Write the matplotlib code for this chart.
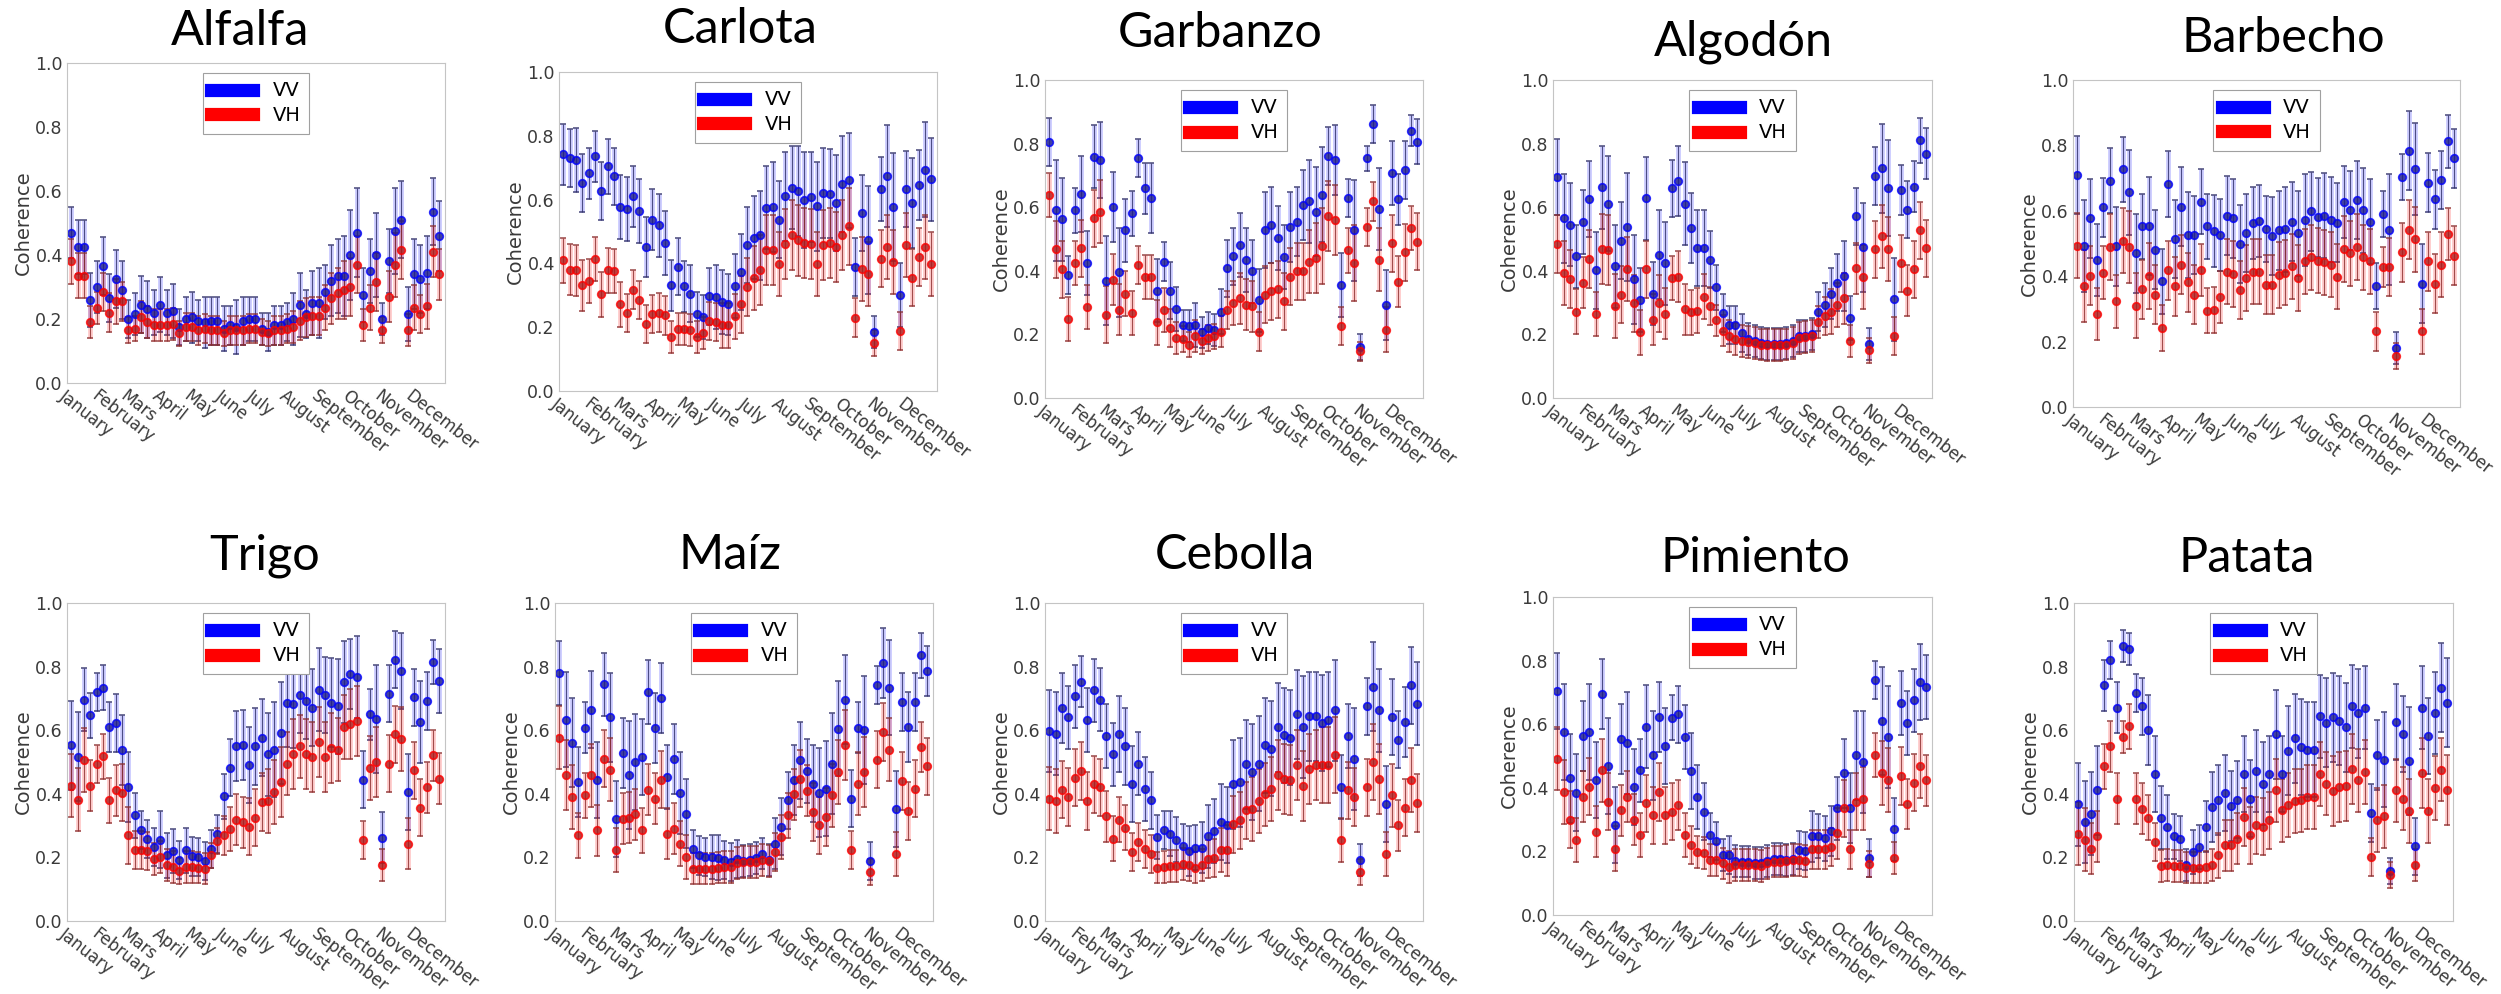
"""
Interferometric coherence (VV / VH) through the year for ten crop classes.
"""
import numpy as np
import matplotlib.pyplot as plt
from matplotlib.lines import Line2D

W, H = 2501, 994

months = ['January', 'February', 'Mars', 'April', 'May', 'June', 'July',
          'August', 'September', 'October', 'November', 'December']
month_start = [0, 31, 59, 90, 120, 151, 181, 212, 243, 273, 304, 334]

# 59 acquisitions spread over the year (day of year)
days = np.linspace(4.2, 359.5, 59)

# ---- data ---------------------------------------------------------------
alfalfa_vv = [0.47, 0.425, 0.425, 0.26, 0.30, 0.365, 0.265, 0.325, 0.29, 0.20,
              0.215, 0.245, 0.23, 0.22, 0.245, 0.22, 0.225, 0.175, 0.20, 0.205,
              0.195, 0.19, 0.195, 0.195, 0.17, 0.18, 0.175, 0.195, 0.20, 0.20,
              0.17, 0.16, 0.18, 0.18, 0.19, 0.20, 0.245, 0.215, 0.25, 0.25,
              0.285, 0.32, 0.335, 0.335, 0.40, 0.47, 0.275, 0.35, 0.40, 0.20,
              0.38, 0.475, 0.51, 0.215, 0.34, 0.325, 0.345, 0.535, 0.46]
alfalfa_vv_err = [0.08, 0.085, 0.085, 0.085, 0.08, 0.09, 0.075, 0.09, 0.09, 0.06,
                  0.065, 0.09, 0.09, 0.07, 0.085, 0.07, 0.085, 0.055, 0.07, 0.08,
                  0.065, 0.08, 0.075, 0.075, 0.07, 0.06, 0.085, 0.075, 0.07, 0.07,
                  0.05, 0.06, 0.06, 0.06, 0.06, 0.08, 0.1, 0.075, 0.1, 0.11,
                  0.085, 0.11, 0.115, 0.125, 0.14, 0.14, 0.085, 0.1, 0.13, 0.05,
                  0.1, 0.135, 0.12, 0.085, 0.11, 0.105, 0.115, 0.105, 0.11]
alfalfa_vh = [0.38, 0.335, 0.335, 0.19, 0.235, 0.285, 0.22, 0.255, 0.255, 0.165,
              0.17, 0.205, 0.19, 0.18, 0.18, 0.18, 0.185, 0.155, 0.175, 0.175,
              0.165, 0.17, 0.165, 0.165, 0.155, 0.165, 0.165, 0.165, 0.17, 0.17,
              0.16, 0.155, 0.165, 0.165, 0.17, 0.175, 0.195, 0.205, 0.21, 0.21,
              0.235, 0.265, 0.28, 0.29, 0.30, 0.37, 0.18, 0.235, 0.315, 0.165,
              0.27, 0.37, 0.415, 0.165, 0.235, 0.215, 0.24, 0.41, 0.34]
alfalfa_vh_err = [0.07, 0.07, 0.07, 0.05, 0.05, 0.06, 0.06, 0.07, 0.06, 0.04,
                  0.04, 0.05, 0.05, 0.05, 0.05, 0.05, 0.05, 0.04, 0.045, 0.045,
                  0.045, 0.045, 0.045, 0.045, 0.04, 0.045, 0.045, 0.045, 0.045, 0.045,
                  0.04, 0.04, 0.045, 0.045, 0.045, 0.05, 0.06, 0.06, 0.06, 0.06,
                  0.07, 0.08, 0.08, 0.09, 0.09, 0.09, 0.05, 0.07, 0.09, 0.04,
                  0.08, 0.1, 0.09, 0.05, 0.07, 0.06, 0.07, 0.08, 0.08]

carlota_vv = [0.742, 0.731, 0.725, 0.652, 0.683, 0.736, 0.627, 0.704, 0.673, 0.577,
              0.57, 0.61, 0.564, 0.451, 0.537, 0.519, 0.465, 0.331, 0.39, 0.328,
              0.305, 0.24, 0.232, 0.297, 0.295, 0.279, 0.272, 0.329, 0.373, 0.457,
              0.48, 0.488, 0.575, 0.577, 0.537, 0.61, 0.637, 0.627, 0.598, 0.608,
              0.579, 0.621, 0.619, 0.589, 0.648, 0.66, 0.389, 0.558, 0.474, 0.185,
              0.634, 0.673, 0.577, 0.30, 0.633, 0.589, 0.645, 0.694, 0.664]
carlota_vv_err = [0.095, 0.09, 0.10, 0.09, 0.08, 0.08, 0.09, 0.085, 0.09, 0.10,
                  0.10, 0.095, 0.10, 0.095, 0.095, 0.10, 0.10, 0.08, 0.09, 0.08,
                  0.09, 0.07, 0.07, 0.09, 0.10, 0.10, 0.095, 0.10, 0.12, 0.12,
                  0.13, 0.14, 0.13, 0.14, 0.12, 0.14, 0.13, 0.14, 0.15, 0.14,
                  0.14, 0.14, 0.14, 0.15, 0.15, 0.15, 0.09, 0.12, 0.17, 0.05,
                  0.10, 0.16, 0.17, 0.10, 0.12, 0.14, 0.11, 0.15, 0.13]
carlota_vh = [0.41, 0.38, 0.378, 0.331, 0.345, 0.414, 0.303, 0.378, 0.376, 0.272,
              0.245, 0.318, 0.286, 0.211, 0.242, 0.246, 0.237, 0.169, 0.195, 0.195,
              0.192, 0.169, 0.182, 0.219, 0.216, 0.206, 0.206, 0.234, 0.272, 0.326,
              0.355, 0.38, 0.441, 0.441, 0.397, 0.462, 0.488, 0.472, 0.464, 0.46,
              0.399, 0.457, 0.464, 0.451, 0.488, 0.516, 0.23, 0.383, 0.368, 0.15,
              0.415, 0.451, 0.404, 0.188, 0.457, 0.355, 0.42, 0.451, 0.399]
carlota_vh_err = [0.07, 0.08, 0.08, 0.08, 0.07, 0.07, 0.07, 0.07, 0.07, 0.07,
                  0.06, 0.06, 0.06, 0.06, 0.06, 0.06, 0.06, 0.05, 0.05, 0.05,
                  0.05, 0.05, 0.05, 0.06, 0.06, 0.07, 0.07, 0.07, 0.09, 0.09,
                  0.10, 0.11, 0.11, 0.11, 0.10, 0.11, 0.11, 0.11, 0.11, 0.11,
                  0.10, 0.11, 0.11, 0.11, 0.11, 0.12, 0.06, 0.10, 0.10, 0.04,
                  0.09, 0.10, 0.10, 0.06, 0.10, 0.09, 0.09, 0.10, 0.10]

garbanzo_vv = [0.806, 0.59, 0.562, 0.387, 0.59, 0.642, 0.424, 0.759, 0.749, 0.369,
               0.602, 0.395, 0.527, 0.581, 0.754, 0.66, 0.628, 0.338, 0.429, 0.338,
               0.28, 0.228, 0.226, 0.23, 0.206, 0.22, 0.215, 0.272, 0.408, 0.445,
               0.482, 0.434, 0.398, 0.307, 0.529, 0.545, 0.503, 0.443, 0.539, 0.555,
               0.607, 0.618, 0.586, 0.639, 0.761, 0.749, 0.356, 0.628, 0.527, 0.16,
               0.754, 0.862, 0.594, 0.293, 0.707, 0.625, 0.717, 0.841, 0.806]
garbanzo_vv_err = [0.075, 0.16, 0.13, 0.06, 0.07, 0.12, 0.10, 0.10, 0.12, 0.14,
                   0.11, 0.14, 0.10, 0.07, 0.06, 0.08, 0.11, 0.10, 0.06, 0.09,
                   0.07, 0.05, 0.05, 0.07, 0.05, 0.05, 0.05, 0.07, 0.09, 0.09,
                   0.10, 0.10, 0.10, 0.10, 0.12, 0.12, 0.10, 0.10, 0.11, 0.11,
                   0.11, 0.13, 0.14, 0.15, 0.09, 0.11, 0.10, 0.06, 0.16, 0.04,
                   0.04, 0.06, 0.13, 0.11, 0.10, 0.08, 0.09, 0.05, 0.07]
garbanzo_vh = [0.639, 0.468, 0.405, 0.248, 0.424, 0.471, 0.286, 0.565, 0.586, 0.262,
               0.372, 0.277, 0.328, 0.267, 0.419, 0.38, 0.38, 0.238, 0.277, 0.22,
               0.188, 0.185, 0.168, 0.194, 0.178, 0.188, 0.194, 0.209, 0.277, 0.298,
               0.314, 0.293, 0.288, 0.209, 0.325, 0.335, 0.342, 0.304, 0.382, 0.398,
               0.398, 0.429, 0.44, 0.479, 0.571, 0.56, 0.227, 0.464, 0.424, 0.147,
               0.539, 0.618, 0.435, 0.215, 0.487, 0.366, 0.458, 0.534, 0.492]
garbanzo_vh_err = [0.07, 0.09, 0.09, 0.07, 0.07, 0.09, 0.07, 0.09, 0.10, 0.09,
                   0.08, 0.08, 0.07, 0.07, 0.06, 0.07, 0.07, 0.07, 0.07, 0.06,
                   0.05, 0.04, 0.04, 0.05, 0.04, 0.04, 0.04, 0.05, 0.06, 0.07,
                   0.08, 0.08, 0.08, 0.06, 0.09, 0.09, 0.09, 0.09, 0.09, 0.09,
                   0.09, 0.10, 0.11, 0.12, 0.11, 0.11, 0.06, 0.07, 0.12, 0.03,
                   0.06, 0.06, 0.10, 0.07, 0.09, 0.08, 0.09, 0.07, 0.09]

algodon_vv = [0.696, 0.565, 0.545, 0.445, 0.553, 0.625, 0.401, 0.663, 0.611, 0.414,
              0.495, 0.537, 0.374, 0.309, 0.628, 0.328, 0.45, 0.424, 0.66, 0.681,
              0.611, 0.535, 0.471, 0.471, 0.435, 0.348, 0.267, 0.23, 0.23, 0.204,
              0.185, 0.178, 0.173, 0.171, 0.171, 0.171, 0.173, 0.178, 0.194, 0.196,
              0.202, 0.272, 0.293, 0.328, 0.363, 0.385, 0.251, 0.571, 0.474, 0.171,
              0.698, 0.722, 0.66, 0.31, 0.654, 0.592, 0.665, 0.81, 0.768]
algodon_vv_err = [0.12, 0.14, 0.13, 0.10, 0.10, 0.12, 0.12, 0.13, 0.15, 0.13,
                  0.12, 0.17, 0.14, 0.10, 0.13, 0.10, 0.14, 0.13, 0.09, 0.11,
                  0.13, 0.11, 0.12, 0.12, 0.09, 0.07, 0.06, 0.06, 0.06, 0.06,
                  0.05, 0.05, 0.05, 0.05, 0.05, 0.05, 0.05, 0.05, 0.05, 0.05,
                  0.05, 0.06, 0.07, 0.08, 0.09, 0.11, 0.07, 0.09, 0.14, 0.05,
                  0.09, 0.14, 0.15, 0.13, 0.08, 0.09, 0.08, 0.07, 0.08]
algodon_vh = [0.484, 0.393, 0.374, 0.272, 0.363, 0.437, 0.264, 0.468, 0.464, 0.29,
              0.325, 0.405, 0.298, 0.206, 0.405, 0.246, 0.298, 0.265, 0.377, 0.382,
              0.279, 0.269, 0.275, 0.319, 0.29, 0.244, 0.212, 0.194, 0.185, 0.178,
              0.175, 0.173, 0.168, 0.166, 0.166, 0.166, 0.168, 0.173, 0.188, 0.191,
              0.194, 0.238, 0.257, 0.272, 0.293, 0.314, 0.178, 0.408, 0.38, 0.15,
              0.468, 0.508, 0.468, 0.194, 0.424, 0.338, 0.405, 0.527, 0.471]
algodon_vh_err = [0.09, 0.1, 0.09, 0.07, 0.08, 0.09, 0.07, 0.11, 0.11, 0.1,
                  0.09, 0.1, 0.09, 0.07, 0.09, 0.08, 0.09, 0.08, 0.07, 0.08,
                  0.08, 0.07, 0.07, 0.07, 0.06, 0.05, 0.05, 0.05, 0.05, 0.05,
                  0.05, 0.05, 0.05, 0.05, 0.05, 0.05, 0.05, 0.05, 0.05, 0.05,
                  0.05, 0.05, 0.06, 0.07, 0.07, 0.08, 0.05, 0.08, 0.1, 0.04,
                  0.09, 0.1, 0.1, 0.06, 0.09, 0.08, 0.09, 0.09, 0.09]

barbecho_vv = [0.71, 0.493, 0.577, 0.45, 0.611, 0.692, 0.491, 0.727, 0.656, 0.47,
               0.552, 0.554, 0.481, 0.384, 0.682, 0.513, 0.613, 0.526, 0.526, 0.628,
               0.552, 0.537, 0.526, 0.585, 0.577, 0.499, 0.532, 0.564, 0.57, 0.544,
               0.523, 0.54, 0.544, 0.567, 0.532, 0.572, 0.598, 0.58, 0.585, 0.572,
               0.564, 0.628, 0.601, 0.633, 0.601, 0.567, 0.371, 0.591, 0.542, 0.18,
               0.703, 0.784, 0.727, 0.377, 0.686, 0.635, 0.694, 0.812, 0.761]
barbecho_vv_err = [0.12, 0.14, 0.12, 0.11, 0.09, 0.10, 0.12, 0.10, 0.13, 0.12,
                   0.10, 0.15, 0.12, 0.10, 0.10, 0.12, 0.12, 0.13, 0.12, 0.10,
                   0.10, 0.11, 0.11, 0.12, 0.12, 0.12, 0.12, 0.11, 0.11, 0.10,
                   0.12, 0.12, 0.13, 0.12, 0.13, 0.14, 0.12, 0.12, 0.13, 0.13,
                   0.12, 0.11, 0.12, 0.12, 0.13, 0.13, 0.07, 0.07, 0.17, 0.05,
                   0.07, 0.12, 0.14, 0.12, 0.09, 0.09, 0.09, 0.08, 0.09]
barbecho_vh = [0.493, 0.369, 0.401, 0.285, 0.411, 0.489, 0.323, 0.509, 0.489, 0.31,
               0.36, 0.401, 0.343, 0.241, 0.418, 0.369, 0.435, 0.381, 0.343, 0.418,
               0.295, 0.297, 0.336, 0.414, 0.407, 0.358, 0.394, 0.414, 0.414, 0.374,
               0.374, 0.404, 0.411, 0.43, 0.394, 0.445, 0.458, 0.448, 0.442, 0.435,
               0.399, 0.483, 0.47, 0.489, 0.458, 0.445, 0.231, 0.428, 0.428, 0.157,
               0.473, 0.542, 0.513, 0.231, 0.445, 0.377, 0.435, 0.53, 0.462]
barbecho_vh_err = [0.1, 0.11, 0.09, 0.08, 0.08, 0.1, 0.08, 0.1, 0.11, 0.1,
                   0.09, 0.1, 0.09, 0.07, 0.09, 0.09, 0.09, 0.09, 0.09, 0.08,
                   0.07, 0.07, 0.08, 0.1, 0.1, 0.09, 0.1, 0.1, 0.1, 0.09,
                   0.09, 0.1, 0.1, 0.1, 0.1, 0.1, 0.1, 0.1, 0.1, 0.1,
                   0.1, 0.1, 0.1, 0.1, 0.1, 0.1, 0.06, 0.06, 0.09, 0.04,
                   0.09, 0.09, 0.1, 0.07, 0.09, 0.09, 0.1, 0.08, 0.09]

trigo_vv = [0.552, 0.516, 0.696, 0.647, 0.72, 0.734, 0.61, 0.623, 0.539, 0.421,
            0.332, 0.287, 0.259, 0.233, 0.256, 0.206, 0.22, 0.191, 0.222, 0.203,
            0.201, 0.189, 0.227, 0.273, 0.392, 0.482, 0.549, 0.552, 0.49, 0.549,
            0.577, 0.524, 0.539, 0.591, 0.686, 0.683, 0.71, 0.692, 0.671, 0.727,
            0.71, 0.686, 0.675, 0.752, 0.776, 0.767, 0.444, 0.65, 0.636, 0.262,
            0.715, 0.822, 0.786, 0.406, 0.704, 0.626, 0.692, 0.814, 0.755]
trigo_vv_err = [0.14, 0.14, 0.10, 0.07, 0.06, 0.07, 0.08, 0.09, 0.11, 0.11,
                0.07, 0.06, 0.06, 0.06, 0.09, 0.07, 0.07, 0.06, 0.07, 0.06,
                0.06, 0.06, 0.06, 0.06, 0.07, 0.09, 0.11, 0.11, 0.12, 0.12,
                0.12, 0.13, 0.15, 0.16, 0.14, 0.14, 0.12, 0.12, 0.12, 0.13,
                0.12, 0.14, 0.15, 0.13, 0.11, 0.13, 0.09, 0.08, 0.17, 0.08,
                0.09, 0.09, 0.12, 0.12, 0.09, 0.13, 0.09, 0.07, 0.1]
trigo_vh = [0.426, 0.382, 0.507, 0.426, 0.495, 0.518, 0.379, 0.411, 0.404, 0.269,
            0.224, 0.222, 0.22, 0.196, 0.201, 0.175, 0.17, 0.157, 0.17, 0.17,
            0.168, 0.165, 0.206, 0.252, 0.269, 0.29, 0.319, 0.311, 0.296, 0.325,
            0.374, 0.377, 0.406, 0.437, 0.495, 0.526, 0.549, 0.524, 0.516, 0.563,
            0.516, 0.545, 0.539, 0.61, 0.618, 0.629, 0.256, 0.482, 0.5, 0.175,
            0.495, 0.587, 0.573, 0.243, 0.474, 0.356, 0.421, 0.521, 0.448]
trigo_vh_err = [0.1, 0.1, 0.1, 0.08, 0.06, 0.07, 0.07, 0.08, 0.09, 0.09,
                0.06, 0.06, 0.06, 0.05, 0.05, 0.05, 0.05, 0.04, 0.05, 0.05,
                0.05, 0.05, 0.04, 0.04, 0.06, 0.07, 0.08, 0.08, 0.09, 0.09,
                0.09, 0.10, 0.10, 0.11, 0.10, 0.11, 0.10, 0.11, 0.11, 0.11,
                0.11, 0.11, 0.10, 0.10, 0.11, 0.11, 0.06, 0.1, 0.11, 0.05,
                0.09, 0.09, 0.1, 0.08, 0.09, 0.09, 0.08, 0.08, 0.08]

maiz_vv = [0.78, 0.633, 0.56, 0.437, 0.608, 0.665, 0.444, 0.744, 0.641, 0.321,
           0.528, 0.46, 0.5, 0.516, 0.72, 0.608, 0.702, 0.453, 0.51, 0.403,
           0.338, 0.227, 0.206, 0.201, 0.201, 0.199, 0.191, 0.186, 0.196, 0.189,
           0.191, 0.199, 0.212, 0.191, 0.243, 0.296, 0.379, 0.444, 0.505, 0.472,
           0.432, 0.403, 0.416, 0.495, 0.605, 0.696, 0.385, 0.608, 0.602, 0.189,
           0.741, 0.811, 0.734, 0.353, 0.689, 0.61, 0.689, 0.835, 0.786]
maiz_vv_err = [0.1, 0.15, 0.14, 0.11, 0.08, 0.12, 0.12, 0.1, 0.14, 0.12,
               0.11, 0.17, 0.15, 0.12, 0.1, 0.11, 0.11, 0.1, 0.11, 0.13,
               0.11, 0.06, 0.06, 0.06, 0.07, 0.07, 0.06, 0.06, 0.06, 0.05,
               0.05, 0.05, 0.05, 0.05, 0.08, 0.09, 0.09, 0.11, 0.12, 0.1,
               0.12, 0.14, 0.15, 0.16, 0.15, 0.14, 0.09, 0.08, 0.17, 0.06,
               0.06, 0.11, 0.15, 0.12, 0.09, 0.11, 0.09, 0.07, 0.08]
maiz_vh = [0.577, 0.458, 0.39, 0.269, 0.395, 0.458, 0.285, 0.51, 0.476, 0.224,
           0.322, 0.325, 0.335, 0.285, 0.413, 0.385, 0.444, 0.275, 0.29, 0.243,
           0.201, 0.165, 0.165, 0.165, 0.165, 0.168, 0.17, 0.17, 0.182, 0.186,
           0.186, 0.186, 0.191, 0.189, 0.217, 0.264, 0.332, 0.398, 0.448, 0.409,
           0.343, 0.301, 0.327, 0.395, 0.469, 0.552, 0.224, 0.432, 0.469, 0.154,
           0.507, 0.594, 0.539, 0.21, 0.44, 0.346, 0.416, 0.547, 0.486]
maiz_vh_err = [0.1, 0.11, 0.1, 0.07, 0.07, 0.1, 0.08, 0.09, 0.1, 0.07,
               0.08, 0.08, 0.08, 0.07, 0.08, 0.08, 0.09, 0.08, 0.08, 0.07,
               0.07, 0.05, 0.05, 0.05, 0.05, 0.05, 0.05, 0.05, 0.05, 0.05,
               0.05, 0.05, 0.05, 0.05, 0.06, 0.07, 0.07, 0.08, 0.09, 0.08,
               0.09, 0.09, 0.09, 0.1, 0.1, 0.11, 0.06, 0.1, 0.11, 0.04,
               0.09, 0.09, 0.1, 0.07, 0.09, 0.09, 0.09, 0.08, 0.09]

cebolla_vv = [0.597, 0.589, 0.671, 0.64, 0.706, 0.752, 0.633, 0.725, 0.696, 0.581,
              0.524, 0.587, 0.549, 0.43, 0.495, 0.416, 0.379, 0.264, 0.285, 0.275,
              0.256, 0.235, 0.22, 0.231, 0.231, 0.266, 0.283, 0.311, 0.301, 0.43,
              0.437, 0.493, 0.469, 0.495, 0.552, 0.542, 0.61, 0.584, 0.577, 0.65,
              0.61, 0.644, 0.644, 0.623, 0.633, 0.662, 0.421, 0.581, 0.51, 0.193,
              0.675, 0.736, 0.662, 0.367, 0.642, 0.57, 0.626, 0.741, 0.683]
cebolla_vv_err = [0.13, 0.13, 0.11, 0.1, 0.1, 0.08, 0.1, 0.1, 0.1, 0.1,
                  0.1, 0.12, 0.12, 0.12, 0.1, 0.1, 0.09, 0.07, 0.06, 0.07,
                  0.07, 0.07, 0.08, 0.07, 0.08, 0.1, 0.1, 0.12, 0.12, 0.14,
                  0.14, 0.14, 0.15, 0.15, 0.15, 0.15, 0.14, 0.15, 0.15, 0.14,
                  0.16, 0.14, 0.14, 0.15, 0.15, 0.16, 0.1, 0.1, 0.16, 0.05,
                  0.09, 0.14, 0.13, 0.12, 0.12, 0.09, 0.11, 0.12, 0.13]
cebolla_vh = [0.385, 0.377, 0.413, 0.39, 0.451, 0.472, 0.377, 0.43, 0.421, 0.329,
              0.259, 0.319, 0.294, 0.217, 0.248, 0.227, 0.21, 0.168, 0.17, 0.172,
              0.172, 0.18, 0.175, 0.168, 0.175, 0.196, 0.199, 0.224, 0.222, 0.304,
              0.317, 0.348, 0.353, 0.377, 0.398, 0.416, 0.458, 0.448, 0.442, 0.49,
              0.426, 0.479, 0.49, 0.49, 0.49, 0.521, 0.254, 0.411, 0.39, 0.154,
              0.421, 0.5, 0.448, 0.21, 0.395, 0.301, 0.356, 0.444, 0.371]
cebolla_vh_err = [0.1, 0.1, 0.09, 0.09, 0.09, 0.09, 0.09, 0.09, 0.09, 0.08,
                  0.07, 0.07, 0.07, 0.06, 0.06, 0.06, 0.06, 0.05, 0.05, 0.05,
                  0.05, 0.05, 0.05, 0.05, 0.05, 0.06, 0.06, 0.07, 0.08, 0.09,
                  0.09, 0.09, 0.1, 0.1, 0.1, 0.1, 0.11, 0.11, 0.11, 0.11,
                  0.11, 0.11, 0.11, 0.12, 0.12, 0.12, 0.07, 0.09, 0.09, 0.04,
                  0.09, 0.12, 0.11, 0.07, 0.1, 0.08, 0.09, 0.1, 0.09]

pimiento_vv = [0.705, 0.576, 0.43, 0.385, 0.563, 0.576, 0.424, 0.696, 0.468, 0.283,
               0.552, 0.541, 0.403, 0.455, 0.592, 0.503, 0.623, 0.531, 0.621, 0.631,
               0.56, 0.453, 0.372, 0.325, 0.251, 0.234, 0.188, 0.188, 0.171, 0.168,
               0.168, 0.164, 0.164, 0.171, 0.175, 0.175, 0.173, 0.175, 0.204, 0.202,
               0.248, 0.248, 0.241, 0.264, 0.335, 0.445, 0.335, 0.503, 0.482, 0.178,
               0.738, 0.61, 0.56, 0.269, 0.667, 0.604, 0.675, 0.733, 0.717]
pimiento_vv_err = [0.12, 0.15, 0.14, 0.12, 0.11, 0.15, 0.12, 0.11, 0.15, 0.12,
                   0.11, 0.16, 0.12, 0.1, 0.13, 0.14, 0.11, 0.12, 0.07, 0.09,
                   0.1, 0.12, 0.1, 0.09, 0.07, 0.06, 0.05, 0.06, 0.05, 0.05,
                   0.05, 0.05, 0.05, 0.05, 0.05, 0.05, 0.05, 0.05, 0.06, 0.06,
                   0.08, 0.07, 0.07, 0.08, 0.1, 0.11, 0.11, 0.14, 0.16, 0.06,
                   0.06, 0.17, 0.16, 0.1, 0.1, 0.1, 0.1, 0.12, 0.1]
pimiento_vh = [0.492, 0.387, 0.3, 0.236, 0.372, 0.403, 0.262, 0.455, 0.356, 0.209,
               0.33, 0.372, 0.3, 0.251, 0.351, 0.314, 0.387, 0.314, 0.325, 0.346,
               0.251, 0.22, 0.199, 0.196, 0.173, 0.173, 0.162, 0.152, 0.157, 0.157,
               0.157, 0.157, 0.154, 0.162, 0.168, 0.168, 0.171, 0.173, 0.173, 0.171,
               0.206, 0.206, 0.206, 0.215, 0.257, 0.335, 0.206, 0.356, 0.366, 0.16,
               0.503, 0.447, 0.424, 0.178, 0.437, 0.349, 0.416, 0.468, 0.424]
pimiento_vh_err = [0.1, 0.1, 0.09, 0.07, 0.08, 0.09, 0.08, 0.1, 0.09, 0.07,
                   0.08, 0.08, 0.08, 0.07, 0.09, 0.09, 0.09, 0.09, 0.09, 0.08,
                   0.07, 0.06, 0.05, 0.05, 0.05, 0.05, 0.05, 0.05, 0.05, 0.05,
                   0.05, 0.05, 0.05, 0.05, 0.05, 0.05, 0.05, 0.05, 0.05, 0.05,
                   0.06, 0.06, 0.06, 0.06, 0.08, 0.09, 0.06, 0.09, 0.1, 0.04,
                   0.07, 0.1, 0.1, 0.05, 0.09, 0.08, 0.09, 0.1, 0.08]

patata_vv = [0.367, 0.311, 0.338, 0.411, 0.741, 0.82, 0.671, 0.864, 0.856, 0.717,
             0.675, 0.602, 0.463, 0.325, 0.296, 0.266, 0.259, 0.175, 0.217, 0.233,
             0.296, 0.358, 0.382, 0.403, 0.361, 0.382, 0.463, 0.385, 0.472, 0.432,
             0.463, 0.587, 0.463, 0.536, 0.574, 0.547, 0.539, 0.539, 0.644, 0.623,
             0.64, 0.629, 0.61, 0.675, 0.654, 0.671, 0.34, 0.521, 0.507, 0.157,
             0.626, 0.589, 0.503, 0.235, 0.671, 0.581, 0.654, 0.734, 0.686]
patata_vv_err = [0.13, 0.13, 0.13, 0.14, 0.08, 0.06, 0.08, 0.05, 0.05, 0.06,
                 0.09, 0.11, 0.12, 0.1, 0.1, 0.07, 0.07, 0.05, 0.07, 0.07,
                 0.08, 0.11, 0.11, 0.12, 0.11, 0.12, 0.12, 0.12, 0.13, 0.13,
                 0.12, 0.14, 0.12, 0.14, 0.14, 0.15, 0.15, 0.15, 0.13, 0.14,
                 0.14, 0.14, 0.14, 0.13, 0.14, 0.13, 0.09, 0.11, 0.15, 0.04,
                 0.12, 0.12, 0.17, 0.09, 0.13, 0.12, 0.13, 0.14, 0.14]
patata_vh = [0.275, 0.256, 0.227, 0.266, 0.486, 0.549, 0.385, 0.579, 0.612, 0.385,
             0.353, 0.325, 0.248, 0.172, 0.175, 0.172, 0.172, 0.168, 0.168, 0.168,
             0.17, 0.175, 0.206, 0.238, 0.238, 0.259, 0.327, 0.269, 0.301, 0.296,
             0.317, 0.411, 0.348, 0.364, 0.377, 0.379, 0.39, 0.39, 0.463, 0.432,
             0.409, 0.421, 0.426, 0.479, 0.442, 0.469, 0.201, 0.317, 0.329, 0.144,
             0.411, 0.385, 0.346, 0.175, 0.465, 0.346, 0.419, 0.476, 0.411]
patata_vh_err = [0.1, 0.1, 0.08, 0.08, 0.07, 0.08, 0.08, 0.05, 0.07, 0.08,
                 0.08, 0.07, 0.06, 0.05, 0.05, 0.05, 0.05, 0.05, 0.05, 0.05,
                 0.05, 0.05, 0.07, 0.08, 0.08, 0.08, 0.09, 0.09, 0.09, 0.09,
                 0.09, 0.1, 0.1, 0.1, 0.1, 0.1, 0.1, 0.1, 0.1, 0.1,
                 0.11, 0.11, 0.11, 0.11, 0.1, 0.1, 0.06, 0.1, 0.1, 0.04,
                 0.1, 0.1, 0.1, 0.05, 0.11, 0.1, 0.1, 0.1, 0.11]

crops = ['Alfalfa', 'Carlota', 'Garbanzo', 'Algodón', 'Barbecho',
         'Trigo', 'Maíz', 'Cebolla', 'Pimiento', 'Patata']
series = {
    'Alfalfa': (alfalfa_vv, alfalfa_vv_err, alfalfa_vh, alfalfa_vh_err),
    'Carlota': (carlota_vv, carlota_vv_err, carlota_vh, carlota_vh_err),
    'Garbanzo': (garbanzo_vv, garbanzo_vv_err, garbanzo_vh, garbanzo_vh_err),
    'Algodón': (algodon_vv, algodon_vv_err, algodon_vh, algodon_vh_err),
    'Barbecho': (barbecho_vv, barbecho_vv_err, barbecho_vh, barbecho_vh_err),
    'Trigo': (trigo_vv, trigo_vv_err, trigo_vh, trigo_vh_err),
    'Maíz': (maiz_vv, maiz_vv_err, maiz_vh, maiz_vh_err),
    'Cebolla': (cebolla_vv, cebolla_vv_err, cebolla_vh, cebolla_vh_err),
    'Pimiento': (pimiento_vv, pimiento_vv_err, pimiento_vh, pimiento_vh_err),
    'Patata': (patata_vv, patata_vv_err, patata_vh, patata_vh_err),
}

# ---- layout (pixels): axes left, right, top, bottom ; title x, baseline y
boxes = [(67, 445, 63, 383), (559, 937, 72, 391), (1045, 1423, 80, 398),
         (1553, 1932, 80, 398), (2073, 2460, 80, 407),
         (67, 445, 603, 921), (555, 933, 603, 921), (1045, 1423, 603, 921),
         (1553, 1932, 597, 915), (2074, 2453, 603, 921)]
title_pos = [(240, 45), (740, 43), (1220, 47), (1743, 55), (2283, 52),
             (265, 569), (730, 569), (1235, 569), (1755, 572), (2247, 572)]

fig = plt.figure(figsize=(W / 100, H / 100), dpi=100)

styles = [('blue', '#1c1c8c', '#2c2c66'),   # VV
          ('red', '#b01a1a', '#8a2b2b')]    # VH

for name, (l, r, t, b), (tx, ty) in zip(crops, boxes, title_pos):
    ax = fig.add_axes([l / W, 1 - b / H, (r - l) / W, (b - t) / H])
    vv, vv_err, vh, vh_err = series[name]
    for (y, e), (c, dark, line) in zip([(vv, vv_err), (vh, vh_err)], styles):
        ax.errorbar(days, y, yerr=e, fmt='none', ecolor=c, elinewidth=3.5,
                    alpha=0.2, capsize=0)
        ax.errorbar(days, y, yerr=e, fmt='o', ms=5.5, mfc=dark, mec=c, mew=1.2,
                    ecolor=line, elinewidth=0.8, capsize=2.2, capthick=0.8,
                    alpha=0.8)
    ax.set_xlim(0, 365)
    ax.set_ylim(0, 1)
    ax.set_yticks([0, 0.2, 0.4, 0.6, 0.8, 1.0])
    ax.set_yticklabels(['0.0', '0.2', '0.4', '0.6', '0.8', '1.0'])
    ax.set_xticks(month_start)
    ax.set_xticklabels(months, rotation=-38, ha='left', va='top',
                       rotation_mode='anchor')
    ax.tick_params(length=0, pad=3, labelcolor='#3a3a3a')
    ax.tick_params(axis='x', labelsize=12)
    ax.tick_params(axis='y', labelsize=12.5)
    ax.set_ylabel('Coherence', fontsize=14, color='#3a3a3a', labelpad=2)
    for s in ax.spines.values():
        s.set_color('#c4c4c4')
    handles = [Line2D([0], [0], color='blue', lw=9.5),
               Line2D([0], [0], color='red', lw=9.5)]
    leg = ax.legend(handles, ['VV', 'VH'], loc='upper center', fontsize=14,
                    fancybox=False, framealpha=1, edgecolor='#a0a0a0',
                    handlelength=2.15, handletextpad=1.0, labelspacing=0.3,
                    borderpad=0.45)
    leg.get_frame().set_linewidth(0.8)
    fig.text(tx / W, 1 - ty / H, name, ha='center', va='baseline',
             fontsize=35, family=['Lato', 'DejaVu Sans'])

fig.savefig('out.png', dpi=100)
